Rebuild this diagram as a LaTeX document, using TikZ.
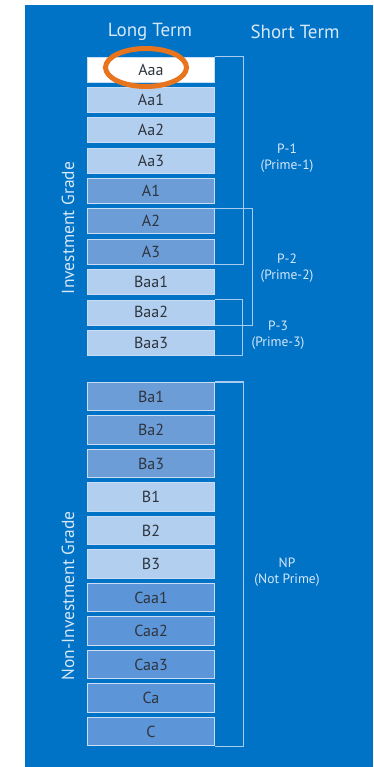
\documentclass[tikz,border=0pt]{standalone}
\usepackage{fontspec}
\setmainfont{PT Sans}
\usetikzlibrary{positioning}

\definecolor{bgblue}{HTML}{0073C6}
\definecolor{lightbox}{HTML}{B2CFEF}
\definecolor{midbox}{HTML}{6C9DD7}
\definecolor{lowbox}{HTML}{5D96D8}
\definecolor{boxedge}{HTML}{C9DEF5}
\definecolor{headtext}{HTML}{D6E7F8}
\definecolor{labeltext}{HTML}{2E343D}
\definecolor{brackline}{HTML}{A9CBEE}
\definecolor{ringorange}{HTML}{E8741E}

\tikzset{
  rating/.style={draw=boxedge, line width=0.6pt, minimum width=127pt, minimum height=25pt,
    inner sep=0pt, text=labeltext, font=\fontsize{16}{16}\selectfont},
  lowrating/.style={rating, minimum height=28.5pt},
  header/.style={text=headtext, font=\fontsize{19}{19}\selectfont},
  grade/.style={text=headtext, font=\fontsize{17.5}{17.5}\selectfont, rotate=90},
  term/.style={text=headtext, font=\fontsize{13.5}{16}\selectfont, align=center},
  brk/.style={draw=brackline, line width=1.1pt},
}

\begin{document}
\begin{tikzpicture}[x=1pt, y=-1pt]
\useasboundingbox (0,0) rectangle (373,767);
\fill[bgblue] (25,5) rectangle (373,767);

% column headings
\node[header] (lt) at (150,32) {Long Term};
\node[header] (st) at (295,32) {Short Term};

% investment grade ratings
\node[rating, fill=white]     (aaa)  at (151,69.5)   {Aaa};
\node[rating, fill=lightbox]  (aa1)  at (151,99.85)  {Aa1};
\node[rating, fill=lightbox]  (aa2)  at (151,130.2)  {Aa2};
\node[rating, fill=lightbox]  (aa3)  at (151,160.55) {Aa3};
\node[rating, fill=midbox]    (a1)   at (151,190.9)  {A1};
\node[rating, fill=midbox]    (a2)   at (151,221.25) {A2};
\node[rating, fill=midbox]    (a3)   at (151,251.6)  {A3};
\node[rating, fill=lightbox]  (baa1) at (151,281.95) {Baa1};
\node[rating, fill=lightbox]  (baa2) at (151,312.3)  {Baa2};
\node[rating, fill=lightbox]  (baa3) at (151,342.65) {Baa3};

% non-investment grade ratings
\node[lowrating, fill=midbox]   (ba1)  at (151,396.5) {Ba1};
\node[lowrating, fill=midbox]   (ba2)  at (151,430)   {Ba2};
\node[lowrating, fill=midbox]   (ba3)  at (151,463.5) {Ba3};
\node[lowrating, fill=lightbox] (b1)   at (151,497)   {B1};
\node[lowrating, fill=lightbox] (b2)   at (151,530.5) {B2};
\node[lowrating, fill=lightbox] (b3)   at (151,564)   {B3};
\node[lowrating, fill=lowbox]   (caa1) at (151,597.5) {Caa1};
\node[lowrating, fill=lowbox]   (caa2) at (151,631)   {Caa2};
\node[lowrating, fill=lowbox]   (caa3) at (151,664.5) {Caa3};
\node[lowrating, fill=lowbox]   (ca)   at (151,698)   {Ca};
\node[lowrating, fill=lowbox]   (c)    at (151,731.5) {C};

% grade labels
\node[grade] (ig)  at (68,228) {Investment Grade};
\node[grade] (nig) at (68,596) {Non-Investment Grade};

% short-term brackets
\draw[brk] (aaa.north east) -- ++(29,0) |- (a3.south east);
\draw[brk] (a2.north east) -- ++(38,0) |- (baa2.south east);
\draw[brk] (baa2.north east) -- ++(28,0) |- (baa3.south east);
\draw[brk] (ba1.north east) -- ++(29,0) |- (c.south east);

% short-term labels
\node[term] (p1) at (287,158) {P-1\\(Prime-1)};
\node[term] (p2) at (287,268) {P-2\\(Prime-2)};
\node[term] (p3) at (278,335) {P-3\\(Prime-3)};
\node[term] (np) at (287,572) {NP\\(Not Prime)};

% highlight ring
\draw[ringorange, line width=5pt] (146,67.5) ellipse [x radius=40.5, y radius=19];
\end{tikzpicture}
\end{document}
